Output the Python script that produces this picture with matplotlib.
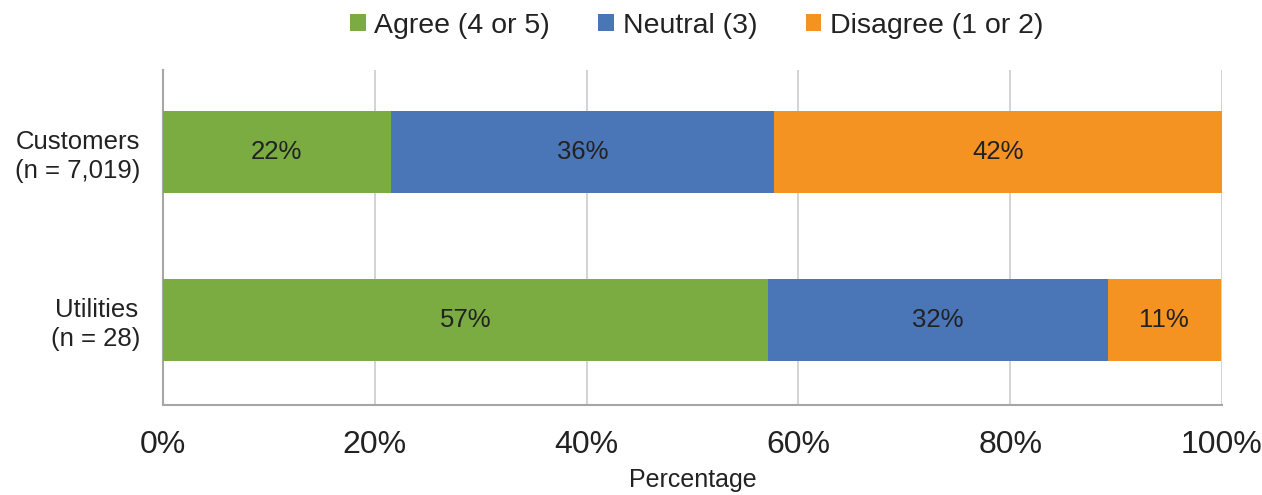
import numpy as np
import matplotlib.pyplot as plt
from matplotlib.patches import Patch

plt.rcParams["font.family"] = ["Liberation Sans", "DejaVu Sans"]

groups = ["Customers\n(n = 7,019)", "Utilities\n(n = 28)"]
series = ["Agree (4 or 5)", "Neutral (3)", "Disagree (1 or 2)"]
agree = [21.5, 57.1]
neutral = [36.2, 32.1]
disagree = [42.3, 10.7]
colors = ["#7aac42", "#4a76b8", "#f59322"]

fig = plt.figure(figsize=(12.62, 4.95), dpi=100)
ax = fig.add_axes([0.1292, 0.1818, 0.8391, 0.6768])

y = np.arange(len(groups))
left = np.zeros(len(groups))
for name, vals, c in zip(series, [agree, neutral, disagree], colors):
    vals = np.array(vals)
    ax.barh(y, vals, left=left, height=0.49, color=c, label=name, zorder=3)
    for yi, l, v in zip(y, left, vals):
        ax.text(l + v / 2, yi, f"{v:.0f}%", ha="center", va="center",
                fontsize=18.5, color="#222222", zorder=4)
    left += vals

ax.set_xlim(0, 100)
ax.set_ylim(1.506, -0.488)
ax.set_xticks(np.arange(0, 101, 20))
ax.set_xticklabels([f"{t}%" for t in range(0, 101, 20)])
ax.set_yticks(y)
ax.set_yticklabels(groups, multialignment="center", linespacing=1.25)
ax.tick_params(axis="x", length=0, pad=18, labelsize=23, colors="#222222")
ax.tick_params(axis="y", length=0, pad=16, labelsize=18.5, colors="#222222")
ax.grid(axis="x", color="#d0d0d0", linewidth=1.3, zorder=0)
for s in ["top", "right"]:
    ax.spines[s].set_visible(False)
for s in ["left", "bottom"]:
    ax.spines[s].set_color("#a6a6a6")
    ax.spines[s].set_linewidth(1.5)
ax.set_xlabel("Percentage", fontsize=18, color="#222222", labelpad=6)

handles = [Patch(facecolor=c, label=n) for n, c in zip(series, colors)]
fig.legend(handles=handles, loc="center", bbox_to_anchor=(0.552, 0.948), ncol=3,
           frameon=False, fontsize=20.5, handlelength=0.55, handleheight=0.55,
           handletextpad=0.3, columnspacing=1.7, labelcolor="#222222")

fig.savefig("out.png", dpi=100)
